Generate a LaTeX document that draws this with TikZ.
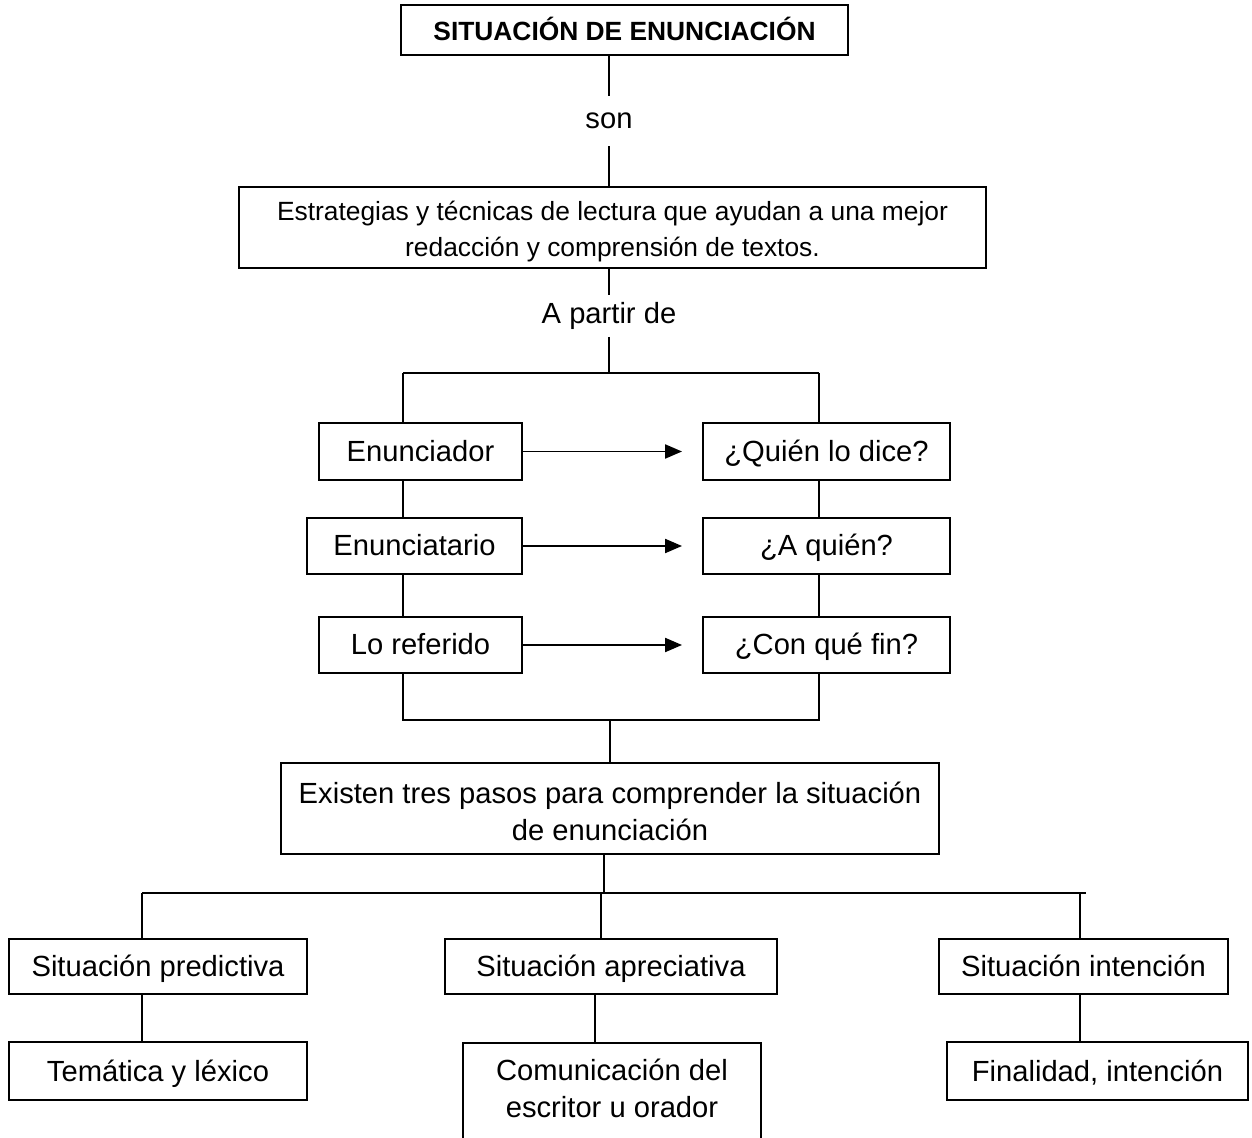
\documentclass[tikz,border=0pt]{standalone}
\usepackage{fontspec}
\setmainfont{Liberation Sans}
\usetikzlibrary{arrows.meta}
\newcommand{\bigtxt}{\fontsize{16.6}{21}\selectfont}
\newcommand{\smalltxt}{\fontsize{15}{20}\selectfont}

\begin{document}
\begin{tikzpicture}[x=0.02cm, y=-0.02cm, line width=1.1pt,
  box/.style={draw, font=\bigtxt, align=center, inner sep=0pt},
  onebox/.style={box, text height=0.5cm, text depth=0.1cm},
  lbl/.style={font=\bigtxt, inner sep=0pt},
  arr/.style={-{Triangle[length=0.34cm,width=0.28cm]}}]
\useasboundingbox (0,0) rectangle (1252,1138);

% title and first level
\node[onebox, font=\smalltxt\bfseries, text height=0.45cm, text depth=0.04cm, minimum width=8.94cm, minimum height=1cm] (titulo) at (624.5,30) {SITUACIÓN DE ENUNCIACIÓN};
\node[lbl, minimum height=0.98cm] (son) at (609,121) {son};
\node[box, font=\smalltxt, minimum width=14.94cm, minimum height=1.62cm] (estrategias) at (612.5,227.5) {\rule{0pt}{0.55cm}Estrategias y técnicas de lectura que ayudan a una mejor\\redacción y comprensión de textos.};
\node[lbl, minimum height=0.8cm] (apartir) at (609,316) {A partir de};

% the three pairs
\node[onebox, minimum width=4.06cm, minimum height=1.14cm] (enunciador) at (420.5,451.5) {Enunciador};
\node[onebox, minimum width=4.3cm, minimum height=1.12cm] (enunciatario) at (414.5,546) {Enunciatario};
\node[onebox, minimum width=4.06cm, minimum height=1.12cm] (referido) at (420.5,645) {Lo referido};
\node[onebox, minimum width=4.94cm, minimum height=1.14cm] (quien) at (826.5,451.5) {¿Quién lo dice?};
\node[onebox, minimum width=4.94cm, minimum height=1.12cm] (aquien) at (826.5,546) {¿A quién?};
\node[onebox, minimum width=4.94cm, minimum height=1.12cm] (confin) at (826.5,645) {¿Con qué fin?};
\coordinate (ltop) at (403,373);
\coordinate (rtop) at (819,373);
\coordinate (lbot) at (403,720);
\coordinate (rbot) at (819,720);

% three steps
\node[box, minimum width=13.16cm, minimum height=1.82cm] (existen) at (610,808.5) {\rule{0pt}{0.55cm}Existen tres pasos para comprender la situación\\de enunciación};
\coordinate (bl) at (142,893);
\coordinate (bm) at (601,893);
\coordinate (br) at (1080,893);
\coordinate (bend) at (1086,893);
\node[onebox, minimum width=5.96cm, minimum height=1.1cm] (predictiva) at (158,966.5) {Situación predictiva};
\node[onebox, minimum width=6.64cm, minimum height=1.1cm] (apreciativa) at (611,966.5) {Situación apreciativa};
\node[onebox, minimum width=5.78cm, minimum height=1.1cm] (intencion) at (1083.5,966.5) {Situación intención};
\node[onebox, minimum width=5.96cm, minimum height=1.16cm] (tematica) at (158,1071) {Temática y léxico};
\node[box, minimum width=5.96cm, minimum height=2.3cm, anchor=north] (comun) at (612,1042) {};
\node[lbl, align=center] (comuntxt) at (612,1088) {Comunicación del\\escritor u orador};
\node[onebox, minimum width=6.02cm, minimum height=1.16cm] (finalidad) at (1097.5,1071) {Finalidad, intención};

% connectors
\draw (son.north |- titulo.south) -- (son.north) (son.south) -- (son.south |- estrategias.north);
\draw (apartir.north |- estrategias.south) -- (apartir.north);
\draw (apartir.south) -- (apartir.south |- ltop) (ltop) -- (rtop);
\draw (ltop) -- (ltop |- enunciador.north) (rtop) -- (rtop |- quien.north);
\draw (ltop |- enunciador.south) -- (ltop |- enunciatario.north) (ltop |- enunciatario.south) -- (ltop |- referido.north);
\draw (rtop |- quien.south) -- (rtop |- aquien.north) (rtop |- aquien.south) -- (rtop |- confin.north);
\draw (ltop |- referido.south) -- (lbot) -- (rbot) -- (rtop |- confin.south);
\draw (existen.north |- lbot) -- (existen.north);
\draw[arr] (enunciador.east) -- ([xshift=-0.4cm]quien.west);
\draw[arr] (enunciatario.east) -- ([xshift=-0.4cm]aquien.west);
\draw[arr] (referido.east) -- ([xshift=-0.4cm]confin.west);
\draw ([xshift=-0.12cm]existen.south) -- ([xshift=-0.12cm]existen.south |- bm) (bl) -- (bend);
\draw (bl) -- (bl |- predictiva.north) (bm) -- (bm |- apreciativa.north) (br) -- (br |- intencion.north);
\draw (bl |- predictiva.south) -- (bl |- tematica.north);
\draw ([xshift=-0.32cm]apreciativa.south) -- ([xshift=-0.32cm]apreciativa.south |- comun.north);
\draw (br |- intencion.south) -- (br |- finalidad.north);
\end{tikzpicture}
\end{document}
